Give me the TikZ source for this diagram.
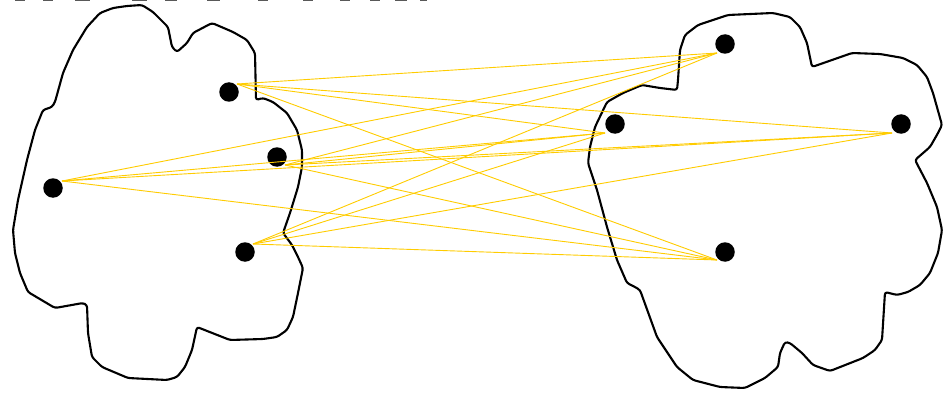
\documentclass[tikz,border=0pt]{standalone}
\begin{document}
\begin{tikzpicture}[x=1pt,y=-1pt,
  blob/.style={draw=black,line width=2.1pt,line join=round,rounded corners=2.5pt,fill=white},
  dot/.style={circle,fill=black,inner sep=0pt,minimum size=19.5pt},
  link/.style={draw={rgb,255:red,255;green,204;blue,0},line width=0.9pt},
  topmark/.style={draw=black!65,line width=1.6pt}]
\useasboundingbox (0,0) rectangle (947,393);
% marks cut off at the top edge
\foreach \a/\b in {15/25,43/53,75/90,132/147,165/177,207/220,258/268,303/313,340/350,370/380,395/407,420/427}
  \draw[topmark] (\a,0.2) -- (\b,0.2);
% left blob
\draw[blob] (142,5) -- (153,12) -- (168,27) -- (172,47) -- (177,52) -- (187,43) -- (193,33) -- (212,23) -- (233,32) -- (247,40) -- (255,53) -- (256,100) -- (263,98) -- (273,102) -- (287,113) -- (297,130) -- (302,150) -- (302,167) -- (298,187) -- (290,213) -- (283,233) -- (292,245) -- (298,257) -- (303,268) -- (298,293) -- (293,317) -- (287,330) -- (277,337) -- (263,339) -- (230,340) -- (197,327) -- (192,350) -- (185,367) -- (177,377) -- (167,380) -- (128,378) -- (102,367) -- (92,357) -- (88,333) -- (87,305) -- (83,303) -- (55,308) -- (28,292) -- (20,273) -- (15,253) -- (13,230) -- (18,200) -- (27,160) -- (35,130) -- (43,110) -- (52,107) -- (55,102) -- (63,73) -- (73,50) -- (87,27) -- (100,13) -- (113,8) -- (127,6) -- cycle;
% right blob
\draw[blob] (728,15) -- (773,13) -- (790,17) -- (800,27) -- (807,43) -- (812,67) -- (852,53) -- (880,54) -- (903,58) -- (917,65) -- (927,77) -- (933,93) -- (942,125) -- (938,133) -- (930,147) -- (915,160) -- (927,183) -- (937,207) -- (942,230) -- (938,253) -- (930,273) -- (920,285) -- (908,292) -- (897,295) -- (885,292) -- (882,340) -- (875,350) -- (863,358) -- (830,371) -- (813,365) -- (802,353) -- (790,343) -- (785,342) -- (780,353) -- (778,367) -- (765,378) -- (745,388) -- (720,387) -- (693,380) -- (677,367) -- (657,337) -- (640,290) -- (635,287) -- (627,283) -- (617,260) -- (607,227) -- (597,190) -- (588,163) -- (590,147) -- (595,127) -- (607,102) -- (623,93) -- (642,85) -- (660,88) -- (677,90) -- (678,80) -- (680,50) -- (685,35) -- (698,25) -- cycle;
% dots
\node[dot] (l1) at (53,188) {};
\node[dot] (l2) at (229,92) {};
\node[dot] (l3) at (277,157) {};
\node[dot] (l4) at (245,252) {};
\node[dot] (r1) at (725,44) {};
\node[dot] (r2) at (615,124) {};
\node[dot] (r3) at (901,124) {};
\node[dot] (r4) at (725,252) {};
% connector end points
\coordinate (a1) at (62,181);
\coordinate (a2) at (237,84);
\coordinate (a3) at (285,165);
\coordinate (a4) at (253,244);
\coordinate (b1) at (717,53);
\coordinate (b2) at (605,133);
\coordinate (b3) at (892,133);
\coordinate (b4) at (717,260);
\foreach \i in {1,2,3,4}
  \foreach \j in {1,2,3,4}
    \draw[link] (a\i) -- (b\j);
\end{tikzpicture}
\end{document}
